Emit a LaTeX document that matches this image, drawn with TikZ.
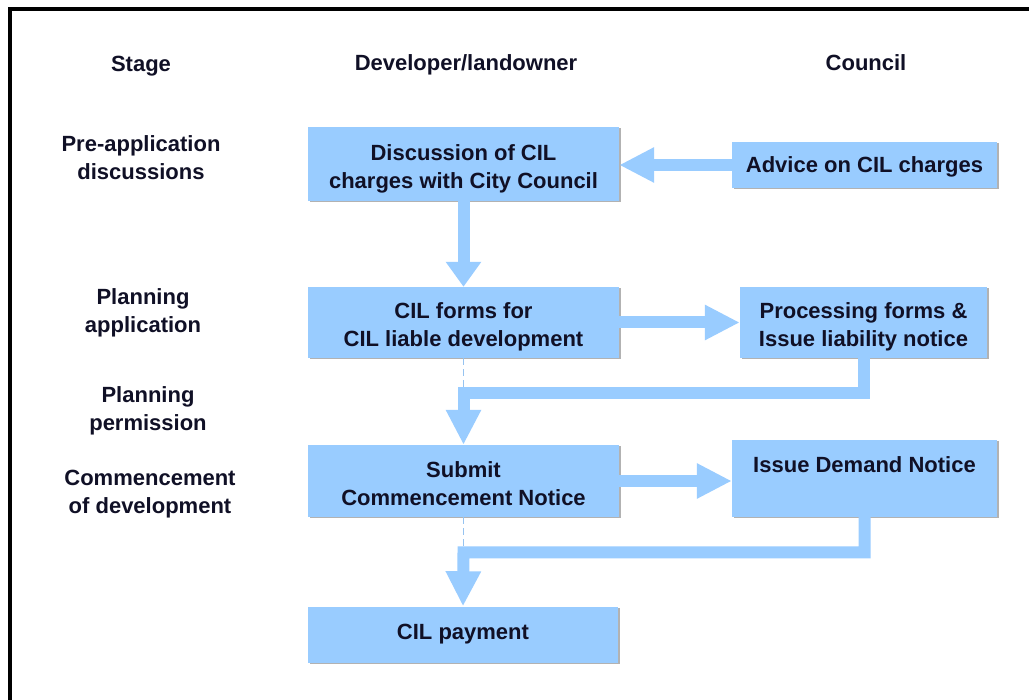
\documentclass[tikz,border=0pt]{standalone}
\usepackage{fontspec}
\setmainfont{Liberation Sans}
\usetikzlibrary{arrows.meta,shadows}
\definecolor{boxblue}{RGB}{153,204,255}
\definecolor{txt}{RGB}{16,16,38}
\definecolor{dashc}{RGB}{150,195,240}
\begin{document}
\begin{tikzpicture}[x=1pt,y=-1pt,
  every node/.style={font=\fontsize{22}{28}\selectfont\bfseries, text=txt, align=center, inner sep=0pt},
  stepbox/.style={fill=boxblue, general shadow={fill=gray!60, shadow xshift=1.5pt, shadow yshift=-1.5pt}},
  twoline/.style={text height=49pt, text depth=0pt},
  oneline/.style={text height=16pt, text depth=0pt},
  flow/.style={draw=boxblue, line width=12pt, line join=miter, -{Triangle[width=33pt,length=35pt]}},
  shortflow/.style={draw=boxblue, line width=12pt, -{Triangle[width=34pt,length=25pt]}},
  thin/.style={draw=dashc, line width=1.2pt, dash pattern=on 7pt off 4pt},
  frame/.style={draw=black, line width=4pt}]
\useasboundingbox (0,0) rectangle (1029,700);
\fill[white] (0,0) rectangle (1029,700);
% frame (top and left edges)
\coordinate (fa) at (10,700);
\coordinate (fb) at (10,9);
\coordinate (fc) at (1029,9);
\draw[frame] (fa) -- (fb) -- (fc);

% headings
\node (hstage) at (141,66) {Stage};
\node (hdev) at (466,65) {Developer/landowner};
\node (hcouncil) at (866,63) {Council};

% stage labels
\node (s1) at (141,158) {Pre-application\\discussions};
\node (s2) at (143,313) {Planning\\application};
\node (s3) at (148,411) {Planning\\permission};
\node (s4) at (150,494) {Commencement\\of development};

% boxes
\node[stepbox, twoline, minimum width=311pt, minimum height=74pt] (disc) at (463.5,164) {Discussion of CIL\\charges with City Council};
\node[stepbox, oneline, minimum width=265pt, minimum height=46pt] (adv) at (864.5,165) {Advice on CIL charges};
\node[stepbox, twoline, minimum width=311pt, minimum height=71pt] (forms) at (463.5,322.5) {CIL forms for\\CIL liable development};
\node[stepbox, twoline, minimum width=247pt, minimum height=71pt] (proc) at (863.5,322.5) {Processing forms \&\\Issue liability notice};
\node[stepbox, twoline, minimum width=311pt, minimum height=72pt] (sub) at (463.5,481) {Submit\\Commencement Notice};
\node[stepbox, minimum width=265pt, minimum height=77pt] (issue) at (864.5,478.5) {Issue Demand Notice\\\mbox{}};
\node[stepbox, minimum width=310pt, minimum height=56pt] (pay) at (463,634.5) {CIL payment};

% junction points
\coordinate (e1) at (863.5,393.5);
\coordinate (e2) at (463.5,393.5);
\coordinate (e3) at (864.5,552.5);
\coordinate (e4) at (463.5,552.5);

% thin dashed lines
\draw[thin] (forms.south) -- (e2);
\draw[thin] (sub.south) -- (e4);

% connectors
\draw[flow] (adv.west) -- (adv.west -| disc.east);
\draw[shortflow] (disc.south) -- (forms.north);
\draw[flow] (forms.east) -- (proc.west);
\draw[flow] (proc.south) -- (e1) -- (e2) -- (sub.north);
\draw[flow] (sub.east) -- (sub.east -| issue.west);
\draw[flow] (issue.south) -- (e3) -- (e4) -- (pay.north);
\end{tikzpicture}
\end{document}
